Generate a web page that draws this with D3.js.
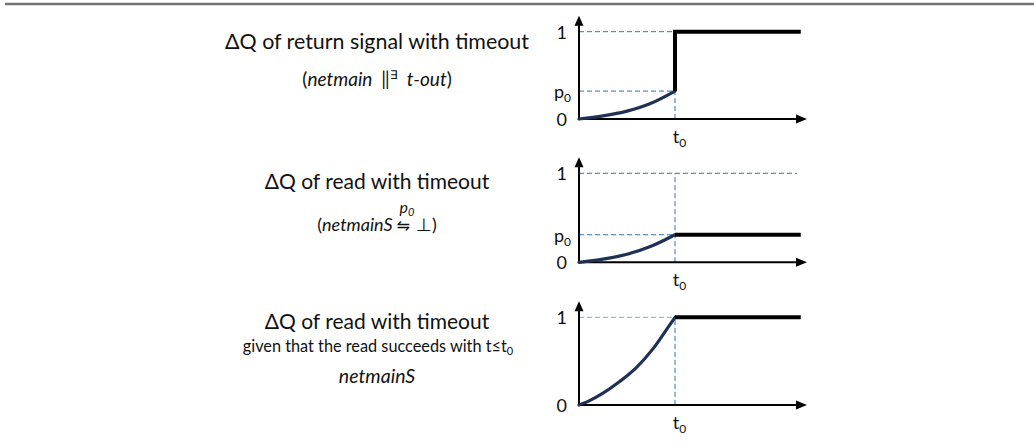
<!DOCTYPE html>
<html>
<head>
<meta charset="utf-8">
<script src="https://cdn.jsdelivr.net/npm/d3@7"></script>
<style>
  body { margin: 0; background: #fff; }
  text { font-family: Lato, "Open Sans", sans-serif; fill: #111; }
</style>
</head>
<body>
<div id="chart"></div>
<script>
var svgWidth = 1034;
var svgHeight = 445;

var titles = ["ΔQ of return signal with timeout", "ΔQ of read with timeout", "ΔQ of read with timeout"];
var p0Values = [0.32, 0.31, null];
var curve1 = [[0, 0], [0.25, 0.035], [0.5, 0.09], [0.75, 0.18], [1, 0.32]];
var curve2 = [[0, 0], [0.25, 0.035], [0.5, 0.09], [0.75, 0.18], [1, 0.31]];
var curve3 = [[0, 0], [0.11, 0.05], [0.25, 0.135], [0.42, 0.265], [0.6, 0.43], [0.77, 0.64], [0.94, 0.905], [1, 1]];
var step1 = [[1, 0.32], [1, 1], [2.31, 1]];
var step2 = [[1, 0.31], [2.31, 0.31]];
var step3 = [[1, 1], [2.31, 1]];
var curves = [curve1, curve2, curve3];
var steps = [step1, step2, step3];
var t0 = 1;
var tMax = 2.375;

// pixel layout of each small panel
var panels = [
  { y0: 119, y1: 31.7 },
  { y0: 262.3, y1: 173.3 },
  { y0: 405, y1: 317.3 }
];

var svg = d3.select("#chart")
  .append("svg")
  .attr("width", svgWidth)
  .attr("height", svgHeight);

// grey rule at the top
svg.append("line")
  .attr("x1", 5).attr("x2", svgWidth)
  .attr("y1", 4).attr("y2", 4)
  .attr("stroke", "#737373")
  .attr("stroke-width", 2.5);

var xScale = d3.scaleLinear().domain([0, tMax]).range([579, 807]);

panels.forEach(function(p, i) {
  var yScale = d3.scaleLinear().domain([0, 1]).range([p.y0, p.y1]);
  var g = svg.append("g");
  var p0 = p0Values[i];

  // dashed guide lines
  var guides = [];
  if (i === 0) {
    guides = [[[0, 1], [t0, 1]], [[0, p0], [t0, p0]], [[t0, 0], [t0, p0]]];
  } else if (i === 1) {
    guides = [[[0, 1], [2.27, 1]], [[0, p0], [t0, p0]], [[t0, 0], [t0, 1]]];
  } else {
    guides = [[[0, 1], [t0, 1]], [[t0, 0], [t0, 1]]];
  }
  guides.forEach(function(seg, k) {
    g.append("line")
      .attr("x1", xScale(seg[0][0])).attr("y1", yScale(seg[0][1]))
      .attr("x2", xScale(seg[1][0])).attr("y2", yScale(seg[1][1]))
      .attr("stroke", (i === 2 && k === 0) ? "#6fa8dc" : "#2e75b6")
      .attr("stroke-width", 1)
      .attr("stroke-dasharray", "5,3");
  });

  // axes lines with arrow heads
  var ax = xScale(0);
  var ay = yScale(0);
  var topY = yScale(1) - 16;
  g.append("line")
    .attr("x1", ax).attr("x2", ax)
    .attr("y1", ay).attr("y2", topY + 8)
    .attr("stroke", "#000").attr("stroke-width", 2);
  g.append("path")
    .attr("d", `M${ax},${topY} L${ax - 4.5},${topY + 10} L${ax + 4.5},${topY + 10} Z`)
    .attr("fill", "#000");
  var rightX = xScale(tMax);
  g.append("line")
    .attr("x1", ax).attr("x2", rightX - 8)
    .attr("y1", ay).attr("y2", ay)
    .attr("stroke", "#000").attr("stroke-width", 2);
  g.append("path")
    .attr("d", `M${rightX},${ay} L${rightX - 11},${ay - 4.5} L${rightX - 11},${ay + 4.5} Z`)
    .attr("fill", "#000");

  // y labels through an axis without domain
  var yTicks = p0 === null ? [0, 1] : [0, p0, 1];
  var yAxis = d3.axisLeft(yScale).tickValues(yTicks).tickSize(0).tickPadding(12).tickFormat("");
  var yg = g.append("g").attr("transform", `translate(${ax},0)`).call(yAxis);
  yg.select(".domain").remove();
  yg.selectAll(".tick text").each(function(d) {
    var t = d3.select(this)
      .attr("font-family", "Lato, sans-serif")
      .attr("font-size", 18)
      .attr("fill", "#111")
      .attr("dy", "0.35em");
    if (d === 0) t.text("0");
    else if (d === 1) t.text("1");
    else {
      t.attr("dx", 4);
      t.append("tspan").text("p");
      t.append("tspan").attr("font-size", 12).attr("dy", 4).text("0");
    }
  });

  // t0 label through bottom axis
  var xAxis = d3.axisBottom(xScale).tickValues([t0]).tickSize(0).tickPadding(11).tickFormat("");
  var xg = g.append("g").attr("transform", `translate(0,${ay})`).call(xAxis);
  xg.select(".domain").remove();
  xg.selectAll(".tick text").each(function() {
    var t = d3.select(this)
      .attr("font-family", "Lato, sans-serif")
      .attr("font-size", 18)
      .attr("fill", "#111")
      .attr("dx", 4);
    t.append("tspan").text("t");
    t.append("tspan").attr("font-size", 12).attr("dy", 4).text("0");
  });

  // distribution curve
  var line = d3.line()
    .x(d => xScale(d[0]))
    .y(d => yScale(d[1]))
    .curve(d3.curveMonotoneX);
  g.append("path")
    .datum(curves[i])
    .attr("d", line)
    .attr("fill", "none")
    .attr("stroke", "#1f3255")
    .attr("stroke-width", 3.2)
    .attr("stroke-linecap", "round");

  // black step after timeout
  g.append("path")
    .datum(steps[i])
    .attr("d", d3.line().x(d => xScale(d[0])).y(d => yScale(d[1])))
    .attr("fill", "none")
    .attr("stroke", "#000")
    .attr("stroke-width", 4);
});

// left side captions
var cx = 377;
svg.append("text").attr("x", cx).attr("y", 49).attr("text-anchor", "middle")
  .attr("font-size", 21.4).text(titles[0]);
var s1 = svg.append("text").attr("x", cx).attr("y", 86).attr("text-anchor", "middle").attr("font-size", 19);
s1.append("tspan").text("(");
s1.append("tspan").attr("font-style", "italic").text("netmain");
s1.append("tspan").attr("dx", 9).text("‖");
s1.append("tspan").attr("font-size", 12).attr("dy", -7).text("∃");
s1.append("tspan").attr("dy", 7).attr("dx", 9).attr("font-style", "italic").text("t-out");
s1.append("tspan").text(")");

svg.append("text").attr("x", cx).attr("y", 189).attr("text-anchor", "middle")
  .attr("font-size", 21).text(titles[1]);
var s2 = svg.append("text").attr("x", cx).attr("y", 231).attr("text-anchor", "middle").attr("font-size", 18);
s2.append("tspan").text("(");
s2.append("tspan").attr("font-style", "italic").text("netmainS");
s2.append("tspan").attr("dx", 4).attr("font-family", "DejaVu Sans").attr("font-size", 16).text("⇋");
s2.append("tspan").attr("dx", 6).text("⊥)");
var sup = svg.append("text").attr("x", 407).attr("y", 213).attr("text-anchor", "middle")
  .attr("font-size", 16).attr("font-style", "italic");
sup.append("tspan").text("p");
sup.append("tspan").attr("font-size", 11).attr("dy", 3).text("0");

svg.append("text").attr("x", cx).attr("y", 329).attr("text-anchor", "middle")
  .attr("font-size", 21).text(titles[2]);
var s3 = svg.append("text").attr("x", 378).attr("y", 352).attr("text-anchor", "middle").attr("font-size", 16.3);
s3.append("tspan").text("given that the read succeeds with t≤t");
s3.append("tspan").attr("font-size", 11).attr("dy", 3).text("0");
svg.append("text").attr("x", cx).attr("y", 383).attr("text-anchor", "middle")
  .attr("font-size", 19.5).attr("font-style", "italic").text("netmainS");
</script>
</body>
</html>
